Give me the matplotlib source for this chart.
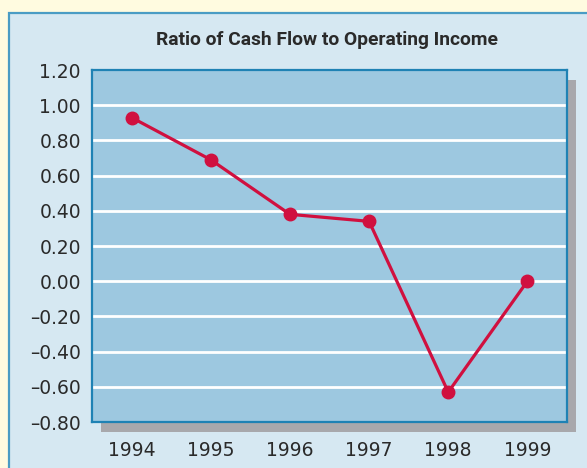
import matplotlib
matplotlib.use("Agg")
import matplotlib.pyplot as plt
from matplotlib.patches import Rectangle

years = ["1994", "1995", "1996", "1997", "1998", "1999"]
ratio = [0.93, 0.69, 0.38, 0.34, -0.63, 0.00]
y_ticks = [-0.8, -0.6, -0.4, -0.2, 0.0, 0.2, 0.4, 0.6, 0.8, 1.0, 1.2]

W, H = 587, 468
BG = "#fffbe0"
PANEL = "#d6e8f2"
PANEL_EDGE = "#4a9cc4"
PLOT_BG = "#9dc8e0"
PLOT_EDGE = "#1f82b4"
SHADOW = "#a8a8ac"
LINE = "#d0103f"
TEXT = "#2a2a2a"

plt.rcParams["font.family"] = "DejaVu Sans"


def px_box(x0, y0, x1, y1):
    # pixel box (top-left origin) -> figure fraction [left, bottom, width, height]
    return [x0 / W, 1 - y1 / H, (x1 - x0) / W, (y1 - y0) / H]


def fmt(v):
    s = f"{abs(v):.2f}"
    return ("\u2013" + s) if v < -1e-9 else s


fig = plt.figure(figsize=(W / 100, H / 100), dpi=100, facecolor=BG)

# light blue panel behind the chart, running off the right and bottom edges
l, b, w, h = px_box(9, 13, W + 10, H + 10)
fig.patches.append(Rectangle((l, b), w, h, transform=fig.transFigure,
                             facecolor=PANEL, edgecolor=PANEL_EDGE, linewidth=1.6, zorder=0))

# drop shadow of the plotting area
l, b, w, h = px_box(101, 80, 576, 432)
fig.patches.append(Rectangle((l, b), w, h, transform=fig.transFigure,
                             facecolor=SHADOW, edgecolor="none", zorder=1))

ax = fig.add_axes(px_box(92, 70, 567, 422))
ax.set_facecolor(PLOT_BG)
ax.set_zorder(2)

x = range(len(years))
ax.plot(x, ratio, color=LINE, linewidth=2.3, marker="o", markersize=9,
        solid_capstyle="round", zorder=3)

ax.set_xlim(-0.5, len(years) - 0.5)
ax.set_ylim(-0.8, 1.2)
ax.set_xticks(list(x))
ax.set_xticklabels(years)
ax.set_yticks(y_ticks)
ax.set_yticklabels([fmt(v) for v in y_ticks])
ax.tick_params(axis="both", length=0, labelsize=13.5, colors=TEXT)
ax.tick_params(axis="y", pad=8)
ax.tick_params(axis="x", pad=14)

for v in y_ticks[1:-1]:
    ax.axhline(v, color="white", linewidth=2, zorder=1)

for sp in ax.spines.values():
    sp.set_color(PLOT_EDGE)
    sp.set_linewidth(1.6)

fig.text(327 / W, 1 - 40 / H, "Ratio of Cash Flow to Operating Income",
         ha="center", va="center", fontsize=13.9, fontweight="bold",
         family="Roboto", color=TEXT)

fig.savefig("out.png", dpi=100, facecolor=BG)
